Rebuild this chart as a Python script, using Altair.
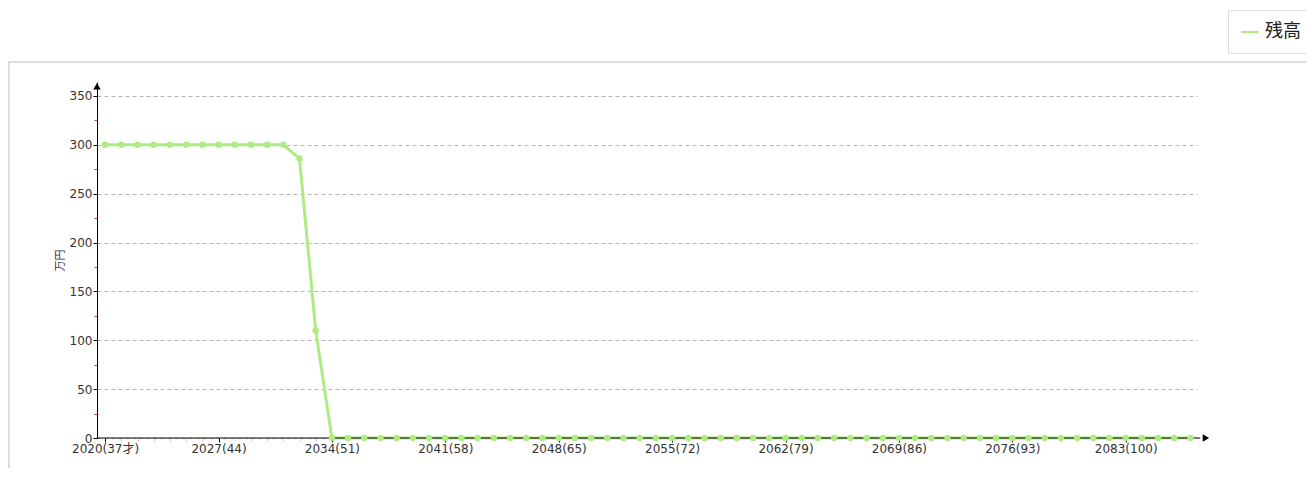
import altair as alt
import pandas as pd

# ---- data ----
years = list(range(2020, 2088))
balance = ([300, 300, 300, 300, 300, 300, 300, 300, 300, 300, 300, 300]
           + [286, 110]
           + [0] * 54)
series_name = "残高"
tick_years = [2020, 2027, 2034, 2041, 2048, 2055, 2062, 2069, 2076, 2083]
tick_labels = ["2020(37才)", "2027(44)", "2034(51)", "2041(58)", "2048(65)",
               "2055(72)", "2062(79)", "2069(86)", "2076(93)", "2083(100)"]
y_major = [0, 50, 100, 150, 200, 250, 300, 350]
y_minor = [25, 75, 125, 175, 225, 275, 325]
y_title = "万円"

df = pd.DataFrame({"year": years, "value": balance, "series": series_name})

FONT = "DejaVu Sans, Noto Sans CJK JP, sans-serif"
GREEN = "#b0ea84"

label_expr = " : ".join(
    f"datum.value == {y} ? '{l}'" for y, l in zip(tick_years, tick_labels)
) + " : ''"

xscale = alt.Scale(domain=[2019.5, 2087.4], nice=False, zero=False)
yscale = alt.Scale(domain=[0, 364.3], nice=False)

base = alt.Chart(df)

line = base.mark_line(strokeWidth=3, color=GREEN).encode(
    x=alt.X("year:Q", scale=xscale,
            axis=alt.Axis(values=tick_years, labelExpr=label_expr, title=None,
                          grid=False, domain=False, tickColor="#000",
                          tickSize=4, labelPadding=1, labelFontSize=12,
                          labelColor="#333", labelFont=FONT, orient="bottom")),
    y=alt.Y("value:Q", scale=yscale,
            axis=alt.Axis(values=y_major, title=y_title, titleFont=FONT,
                          titleFontSize=11, titleFontWeight="normal",
                          titleColor="#333", titlePadding=4,
                          grid=True, gridDash=[4, 3], gridColor="#b5b5b5",
                          domainColor="#000", domainOpacity=1, tickColor="#000",
                          tickSize=4,
                          labelPadding=1, labelFontSize=12, labelColor="#333",
                          labelFont=FONT, orient="left")),
    color=alt.Color("series:N", scale=alt.Scale(range=[GREEN]),
                    legend=alt.Legend(title=None, orient="none",
                                      legendX=1131, legendY=-72,
                                      symbolType="stroke", symbolSize=324,
                                      symbolStrokeWidth=2, labelFontSize=18,
                                      labelFont=FONT, labelColor="#222",
                                      padding=12, strokeColor="#dddddd",
                                      fillColor="#ffffff", labelOffset=5)),
)

points = base.mark_circle(size=42, opacity=1, color=GREEN).encode(
    x=alt.X("year:Q", scale=xscale, axis=None),
    y=alt.Y("value:Q", scale=yscale, axis=None),
)

minor = base.mark_point(opacity=0).encode(
    x=alt.X("year:Q", scale=xscale,
            axis=alt.Axis(values=years, labels=False, domain=False, grid=False,
                          ticks=True, tickColor="#cccccc", tickSize=3,
                          title=None, orient="bottom")),
    y=alt.Y("value:Q", scale=yscale,
            axis=alt.Axis(values=y_minor, labels=False, domain=False, grid=False,
                          ticks=True, tickColor="#e03030", tickSize=3,
                          title=None, orient="left")),
)

# axis decorations: x-axis line and arrow heads
xaxis_df = pd.DataFrame({"x": [2019.5], "x2": [2087.6], "y": [0]})
xaxis_line = alt.Chart(xaxis_df).mark_rule(color="#000", strokeWidth=1).encode(
    x=alt.X("x:Q", scale=xscale, axis=None), x2="x2:Q",
    y=alt.Y("y:Q", scale=yscale, axis=None))

arrow_df = pd.DataFrame({"x": [2019.5, 2087.95], "y": [360.0, 0],
                         "shape": ["triangle-up", "triangle-right"]})
arrows = alt.Chart(arrow_df).mark_point(filled=True, size=55, color="#000",
                                        opacity=1).encode(
    x=alt.X("x:Q", scale=xscale, axis=None),
    y=alt.Y("y:Q", scale=yscale, axis=None),
    shape=alt.Shape("shape:N", scale=None, legend=None))

frame = alt.Chart(pd.DataFrame({"a": [0]})).mark_rect(
    fill=None, stroke="#dddddd", strokeWidth=2).encode(
    x=alt.value(-88), x2=alt.value(1215), y=alt.value(-20), y2=alt.value(420))

chart = alt.layer(frame, minor, line, xaxis_line, points, arrows).resolve_axis(
    x="independent", y="independent"
).properties(
    width=1100, height=356,
    padding={"left": 89, "top": 74, "right": 109, "bottom": 30},
    autosize=alt.AutoSizeParams(type="none"),
).configure(font=FONT).configure_view(stroke="transparent", strokeWidth=0)

chart.save("out.html", embed_options={"renderer": "svg", "actions": False})
